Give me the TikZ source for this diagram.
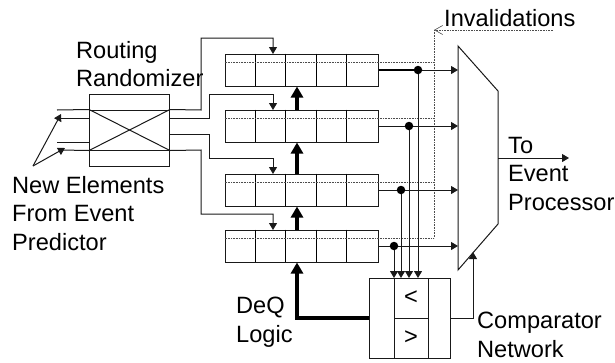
\documentclass[tikz,border=0pt]{standalone}
\usepackage{fontspec}
\setmainfont{Liberation Sans}
\usetikzlibrary{arrows.meta}
\begin{document}
\begin{tikzpicture}[x=1pt,y=-1pt]

    % styles
    \tikzstyle{thin line} = [line width=1pt, draw=black!90]
    \tikzstyle{arrow} = [thin line, -{Triangle[length=7pt,width=8pt]}]
    \tikzstyle{bigarrow} = [line width=3.6pt, black, -{Triangle[length=11pt,width=12pt]}]
    \tikzstyle{inval} = [line width=0.6pt, black!70, densely dotted]
    \tikzstyle{queue} = [rectangle, draw=black!90, line width=1pt, minimum width=153pt, minimum height=32pt, inner sep=0pt]
    \tikzstyle{joint} = [circle, fill=black, minimum size=8.5pt, inner sep=0pt]
    \tikzstyle{label} = [inner sep=0pt, anchor=north west, align=left, font=\fontsize{23.6}{28.5}\selectfont]

    \useasboundingbox (0,0) rectangle (615,362);

    % queues
    \node (q1) [queue] at (301.5,70) {};
    \node (q2) [queue] at (301.5,126) {};
    \node (q3) [queue] at (301.5,190) {};
    \node (q4) [queue] at (301.5,246) {};
    \foreach \q in {q1,q2,q3,q4} {
        \draw [line width=1.7pt] (\q.north west) ++(31,0) -- ++(0,32);
        \draw [line width=1pt] (\q.north west) ++(61,0) -- ++(0,32);
        \draw [line width=1.7pt] (\q.north west) ++(92,0) -- ++(0,32);
        \draw [line width=1pt] (\q.north west) ++(122,0) -- ++(0,32);
    }

    % router
    \node (router) [rectangle, draw=black!90, line width=1pt, minimum width=80pt, minimum height=72pt, inner sep=0pt] at (129.5,130) {};
    \node (cross) [rectangle, draw=black!90, line width=1pt, minimum width=80pt, minimum height=40pt, inner sep=0pt] at (129.5,130) {};
    \draw [thin line] (cross.north west) -- (cross.south east);
    \draw [thin line] (cross.south west) -- (cross.north east);

    % mux and comparator
    \draw [thin line] (458,46) -- (498,91) -- (498,224) -- (458,270) -- cycle;
    \node (cmp) [rectangle, draw=black!90, line width=1pt, minimum width=81pt, minimum height=80pt, inner sep=0pt] at (409.5,318) {};
    \node (lt) [rectangle, draw=black!90, line width=1pt, minimum width=34pt, minimum height=40pt, inner sep=0pt, font=\fontsize{23.6}{28.5}\selectfont] at (411,298) {<};
    \node (gt) [rectangle, draw=black!90, line width=1pt, minimum width=34pt, minimum height=40pt, inner sep=0pt, font=\fontsize{23.6}{28.5}\selectfont] at (411,338) {>};

    % texts
    \node (routing) [label] at (76,41) {Routing\\Randomizer};
    \node (elements) [label] at (12,176) {New Elements\\From Event\\Predictor};
    \node (deq) [label] at (236,297) {DeQ\\Logic};
    \node (invalid) [label] at (444,9) {Invalidations};
    \node (toproc) [label] at (508,137) {To\\Event\\Processor};
    \node (network) [label] at (477,312) {Comparator\\Network};

    % free ends
    \coordinate (in1) at (57,110);
    \coordinate (in2) at (58,118);
    \coordinate (in3) at (57,142);
    \coordinate (in4) at (60,150);
    \coordinate (fork) at (33,166);
    \coordinate (head1) at (61,114);
    \coordinate (head2) at (65,148);
    \coordinate (out) at (569,158);
    \coordinate (invtail) at (553,30);
    \coordinate (invcorner) at (434,30);
    \coordinate (muxin) at (473,252);

    % router ports
    \draw [thin line] (in1) -- (cross.north west);
    \draw [thin line] (in2) -- (router.west |- in2);
    \draw [thin line] (in3) -- (router.west |- in3);
    \draw [thin line] (in4) -- (cross.south west);
    \draw [arrow] (fork) -- (head1);
    \draw [arrow] (fork) -- (head2);

    % router to queues
    \draw [arrow] (cross.north east) -- (201,110) -- (201,38) -- (273,38) -- (273,54);
    \draw [arrow] (router.east |- 0,118) -- (209,118) -- (209,94) -- (273,94) -- (273,110);
    \draw [arrow] (router.east |- 0,134) -- (209,134) -- (209,158) -- (273,158) -- (273,174);
    \draw [arrow] (cross.south east) -- (201,150) -- (201,214) -- (273,214) -- (273,230);

    % dequeue path
    \draw [bigarrow] (q2.north -| 297,0) -- (q1.south -| 297,0);
    \draw [bigarrow] (q3.north -| 297,0) -- (q2.south -| 297,0);
    \draw [bigarrow] (q4.north -| 297,0) -- (q3.south -| 297,0);
    \draw [bigarrow] (cmp.west) -- (297,318) -- (q4.south -| 297,0);

    % invalidations
    \foreach \q/\y in {q1/62,q2/118,q3/182,q4/238} {
        \draw [inval] (\q.west |- 0,\y) -- (434,\y);
    }
    \draw [inval] (invcorner) -- (434,238);
    \draw [inval, -{Straight Barb[length=8pt,width=9pt]}] (invtail) -- (invcorner);

    % joints
    \node (j1) [joint] at (418,70) {};
    \node (j2) [joint] at (409,126) {};
    \node (j3) [joint] at (401,190) {};
    \node (j4) [joint] at (394,246) {};

    % queues to mux and comparator
    \draw [line width=1.3pt] (q1.east) -- (j1);
    \draw [thin line] (q2.east) -- (j2);
    \draw [thin line] (q3.east) -- (j3);
    \draw [thin line] (q4.east) -- (j4);
    \draw [arrow] (j1) -- (458,70);
    \draw [arrow] (j2) -- (458,126);
    \draw [arrow] (j3) -- (458,190);
    \draw [arrow] (j4) -- (458,246);
    \draw [arrow] (j1) -- (418,278);
    \draw [arrow] (j2) -- (409,278);
    \draw [arrow] (j3) -- (401,278);
    \draw [arrow] (j4) -- (394,278);

    % comparator to mux, mux output
    \draw [arrow] (cmp.east) -- (473,318) -- (muxin);
    \draw [arrow] (498,158) -- (out);

\end{tikzpicture}
\end{document}
